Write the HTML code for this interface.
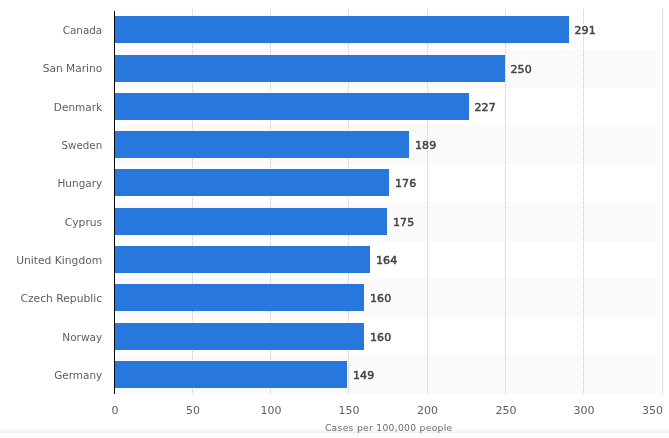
<!DOCTYPE html>
<html lang="en">
<head>
<meta charset="utf-8">
<title>Cases per 100,000 people</title>
<style>
html,body{margin:0;padding:0;background:#fff;}
body{width:669px;height:438px;overflow:hidden;position:relative;}
svg{display:block;position:absolute;left:0;top:0;}
text{font-family:"DejaVu Sans","Liberation Sans",sans-serif;font-size:11px;}
.lab{fill:#5e5e5e;text-anchor:end;}
.val{fill:#444;stroke:#444;stroke-width:0.5px;filter:drop-shadow(1px 0 0 #fff) drop-shadow(-1px 0 0 #fff) drop-shadow(0 1px 0 #fff) drop-shadow(0 -1px 0 #fff);}
.tick{fill:#5e5e5e;}
.ttl{fill:#6a6a6a;font-size:9.2px;}
.bar{fill:#2877dd;}
.band{fill:#fafafa;}
.grid{stroke:#c8c8c8;stroke-width:1;stroke-dasharray:1,1;}
</style>
</head>
<body>
<svg width="669" height="438" viewBox="0 0 669 438">
<rect x="0" y="0" width="669" height="438" fill="#fff"/>
<g>
<rect x="0" y="427" width="669" height="1" fill="#fdfdfd"/>
<rect x="0" y="428" width="669" height="1" fill="#fcfcfc"/>
<rect x="0" y="429" width="669" height="1" fill="#fbfbfb"/>
<rect x="0" y="430" width="669" height="1" fill="#f9f9f9"/>
<rect x="0" y="431" width="669" height="1" fill="#f5f5f5"/>
<rect x="0" y="432" width="669" height="1" fill="#efefef"/>
<rect x="0" y="433" width="669" height="5" fill="#fdfdfd"/>
</g>
<g>
<rect class="band" x="115" y="49" width="541" height="39"/>
<rect class="band" x="115" y="125" width="541" height="39"/>
<rect class="band" x="115" y="202" width="541" height="39"/>
<rect class="band" x="115" y="278" width="541" height="39"/>
<rect class="band" x="115" y="355" width="541" height="39"/>
</g>
<g>
<line class="grid" x1="192.5" y1="9" x2="192.5" y2="394"/>
<line class="grid" x1="270.5" y1="9" x2="270.5" y2="394"/>
<line class="grid" x1="348.5" y1="9" x2="348.5" y2="394"/>
<line class="grid" x1="427.5" y1="9" x2="427.5" y2="394"/>
<line class="grid" x1="505.5" y1="9" x2="505.5" y2="394"/>
<line class="grid" x1="583.5" y1="9" x2="583.5" y2="394"/>
<line class="grid" x1="662.5" y1="9" x2="662.5" y2="394"/>
</g>
<g>
<rect class="bar" x="115" y="16" width="454" height="27"/>
<rect class="bar" x="115" y="55" width="390" height="27"/>
<rect class="bar" x="115" y="93" width="354" height="27"/>
<rect class="bar" x="115" y="131" width="294" height="27"/>
<rect class="bar" x="115" y="169" width="274" height="27"/>
<rect class="bar" x="115" y="208" width="272" height="27"/>
<rect class="bar" x="115" y="246" width="255" height="27"/>
<rect class="bar" x="115" y="284" width="249" height="27"/>
<rect class="bar" x="115" y="323" width="249" height="27"/>
<rect class="bar" x="115" y="361" width="232" height="27"/>
</g>
<rect x="114" y="11" width="1" height="383" fill="#0a0a0a"/>
<g>
<text class="lab" x="102.2" y="34" textLength="39.5" lengthAdjust="spacingAndGlyphs">Canada</text>
<text class="lab" x="102.2" y="72" textLength="59.5" lengthAdjust="spacingAndGlyphs">San Marino</text>
<text class="lab" x="102.2" y="111" textLength="48.4" lengthAdjust="spacingAndGlyphs">Denmark</text>
<text class="lab" x="102.2" y="149" textLength="40.6" lengthAdjust="spacingAndGlyphs">Sweden</text>
<text class="lab" x="102.2" y="187" textLength="44.7" lengthAdjust="spacingAndGlyphs">Hungary</text>
<text class="lab" x="102.2" y="226" textLength="37.4" lengthAdjust="spacingAndGlyphs">Cyprus</text>
<text class="lab" x="102.2" y="264" textLength="86.0" lengthAdjust="spacingAndGlyphs">United Kingdom</text>
<text class="lab" x="102.2" y="302" textLength="81.8" lengthAdjust="spacingAndGlyphs">Czech Republic</text>
<text class="lab" x="102.2" y="341" textLength="39.9" lengthAdjust="spacingAndGlyphs">Norway</text>
<text class="lab" x="102.2" y="379" textLength="48.0" lengthAdjust="spacingAndGlyphs">Germany</text>
</g>
<g>
<text class="val" x="574.40 581.60 588.80" y="34">291</text>
<text class="val" x="510.40 517.60 524.80" y="73">250</text>
<text class="val" x="474.40 481.60 488.80" y="111">227</text>
<text class="val" x="414.90 422.10 429.30" y="149">189</text>
<text class="val" x="394.90 402.10 409.30" y="187">176</text>
<text class="val" x="392.90 400.10 407.30" y="226">175</text>
<text class="val" x="375.90 383.10 390.30" y="264">164</text>
<text class="val" x="369.90 377.10 384.30" y="302">160</text>
<text class="val" x="369.90 377.10 384.30" y="341">160</text>
<text class="val" x="352.90 360.10 367.30" y="379">149</text>
</g>
<g>
<text class="tick" x="111.50" y="414">0</text>
<text class="tick" x="186.00 193.00" y="414">50</text>
<text class="tick" x="260.50 267.50 274.50" y="414">100</text>
<text class="tick" x="338.50 345.50 352.50" y="414">150</text>
<text class="tick" x="417.10 424.10 431.10" y="414">200</text>
<text class="tick" x="495.40 502.40 509.40" y="414">250</text>
<text class="tick" x="573.50 580.50 587.50" y="414">300</text>
<text class="tick" x="642.00 649.00 656.00" y="414">350</text>
</g>
<text class="ttl" x="324.9" y="431" textLength="127.3" lengthAdjust="spacing">Cases per 100,000 people</text>
</svg>
</body>
</html>
